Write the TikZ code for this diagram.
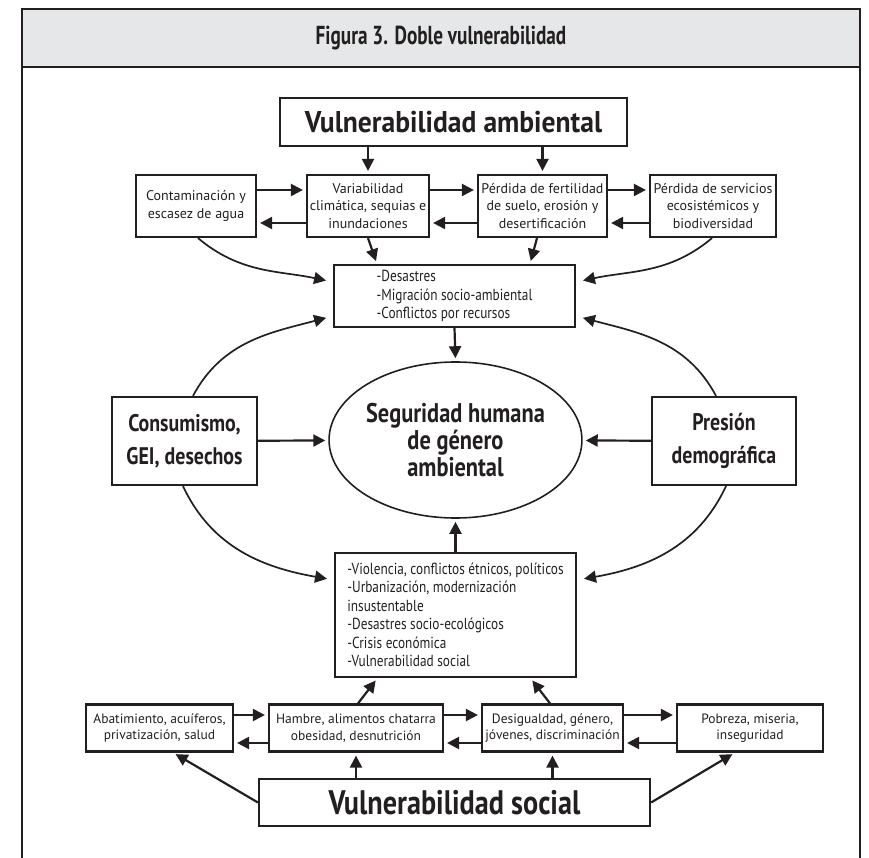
\documentclass[tikz,border=0pt]{standalone}
\usepackage{fontspec}
\setmainfont{PT Sans}
\newfontfamily\narrowfont[FakeStretch=0.83]{PT Sans}
\newfontfamily\listfont[FakeStretch=0.92]{PT Sans}
\newfontfamily\titlefont[FakeStretch=0.74]{PT Sans}
\usetikzlibrary{shapes.geometric, arrows.meta, positioning, calc}
\definecolor{ink}{RGB}{35,31,32}
\definecolor{headgray}{RGB}{230,231,232}
\tikzstyle{box} = [rectangle, draw=ink, line width=2.2pt, text=ink, align=center, inner sep=2pt, font=\fontsize{14}{17.5}\selectfont]
\tikzstyle{rowbox} = [box, minimum height=47pt, font=\fontsize{13.5}{16.5}\selectfont]
\tikzstyle{headbox} = [box, font=\listfont\bfseries\fontsize{30}{34}\selectfont]
\tikzstyle{bigbox} = [box, font=\narrowfont\bfseries\fontsize{24}{33}\selectfont]
\tikzstyle{listbox} = [box, align=left, font=\narrowfont\fontsize{16}{18.5}\selectfont]
\tikzstyle{arrow} = [line width=2.2pt, draw=ink, -{Triangle[length=12pt,width=12pt]}, shorten >=3pt]
\tikzstyle{curve} = [arrow, line width=1.7pt, shorten >=7pt]

\begin{document}
\begin{tikzpicture}[x=1pt, y=1pt]
    \useasboundingbox (0,0) rectangle (869,-858);

    % marco y encabezado
    \draw [line width=2.4pt, draw=ink, fill=headgray] (22,-9) rectangle (860,-67);
    \draw [line width=2.4pt, draw=ink] (22,-67) -- (22,-858);
    \draw [line width=2.4pt, draw=ink] (860,-67) -- (860,-858);
    \node (title) [text=ink, font=\titlefont\bfseries\fontsize{26}{30}\selectfont] at (441,-38) {Figura 3. Doble vulnerabilidad};

    % vulnerabilidad ambiental
    \node (va) [headbox, minimum width=347pt, minimum height=48pt] at (453.5,-122) {Vulnerabilidad ambiental};
    \node (contam) [box, minimum width=120pt, minimum height=62pt] at (196,-206) {Contaminación y\\escasez de agua};
    \node (variab) [box, minimum width=122pt, minimum height=62pt] at (368,-206) {Variabilidad\\climática, sequias e\\inundaciones};
    \node (fert) [box, minimum width=129pt, minimum height=62pt] at (542.5,-206) {Pérdida de fertilidad\\de suelo, erosión y\\desertificación};
    \node (serv) [box, minimum width=126pt, minimum height=62pt] at (713,-206) {Pérdida de servicios\\ecosistémicos y\\biodiversidad};

    \node (desastres) [listbox, minimum width=241pt, minimum height=62pt] at (454.5,-296) {-Desastres\\-Migración socio-ambiental\\-Conflictos por recursos};

    % centro
    \node (ell) [ellipse, draw=ink, line width=1.6pt, text=ink, align=center, minimum width=204pt, minimum height=156pt, inner sep=0pt, font=\narrowfont\bfseries\fontsize{27}{27}\selectfont] at (455.5,-440) {Seguridad humana\\de género\\ambiental};
    \node (cons) [bigbox, minimum width=145pt, minimum height=88pt] at (184.5,-441) {Consumismo,\\GEI, desechos};
    \node (pres) [bigbox, minimum width=144pt, minimum height=88pt] at (724,-441) {Presión\\demográfica};

    \node (lower) [listbox, minimum width=241pt, minimum height=124pt] at (455.5,-615) {-Violencia, conflictos étnicos, políticos\\-Urbanización, modernización\\insustentable\\-Desastres socio-ecológicos\\-Crisis económica\\-Vulnerabilidad social};

    % vulnerabilidad social
    \node (abat) [rowbox, minimum width=147pt] at (159.5,-728) {Abatimiento, acuíferos,\\privatización, salud};
    \node (hambre) [rowbox, minimum width=174pt] at (356,-728) {Hambre, alimentos chatarra\\obesidad, desnutrición};
    \node (desig) [rowbox, minimum width=141pt] at (552.5,-728) {Desigualdad, género,\\jóvenes, discriminación};
    \node (pobreza) [rowbox, minimum width=146pt] at (750,-728) {Pobreza, miseria,\\inseguridad};
    \node (vs) [bigbox, minimum width=391pt, minimum height=47pt, font=\narrowfont\bfseries\fontsize{34}{38}\selectfont] at (454.5,-802.5) {Vulnerabilidad social};

    % flechas de arriba
    \draw [arrow] (va.south -| variab.north) -- (variab.north);
    \draw [arrow] (va.south -| fert.north) -- (fert.north);

    \draw [arrow] ([yshift=16pt]contam.east) -- ([yshift=16pt]variab.west);
    \draw [arrow] ([yshift=-17pt]variab.west) -- ([yshift=-17pt]contam.east);
    \draw [arrow] ([yshift=16pt]variab.east) -- ([yshift=16pt]fert.west);
    \draw [arrow] ([yshift=-17pt]fert.west) -- ([yshift=-17pt]variab.east);
    \draw [arrow] ([yshift=16pt]fert.east) -- ([yshift=16pt]serv.west);
    \draw [arrow] ([yshift=-17pt]serv.west) -- ([yshift=-17pt]fert.east);

    \draw [arrow] (variab.south) -- ([xshift=-77.5pt]desastres.north);
    \draw [arrow] ([xshift=-5.5pt]fert.south) -- ([xshift=75.5pt]desastres.north);
    \draw [curve] ([xshift=2pt]contam.south) to[out=-40, in=168] ([yshift=14pt]desastres.west);
    \draw [curve] ([xshift=-1pt]serv.south) to[out=-140, in=12] ([yshift=14pt]desastres.east);

    % flechas del centro
    \draw [curve] ([xshift=8.5pt]cons.north) to[out=62, in=195] ([yshift=-20pt]desastres.west);
    \draw [curve] ([xshift=-8pt]pres.north) to[out=118, in=-15] ([yshift=-20pt]desastres.east);
    \draw [curve] ([xshift=-1.5pt]cons.south) to[out=-65, in=170] ([yshift=35pt]lower.west);
    \draw [curve] ([xshift=2pt]pres.south) to[out=-115, in=10] ([yshift=35pt]lower.east);

    \draw [arrow] (desastres.south) -- (ell.north);
    \draw [arrow] (lower.north) -- (ell.south);
    \draw [arrow] (cons) -- (ell);
    \draw [arrow] (pres) -- (ell);

    % flechas de abajo
    \draw [arrow] ([xshift=2pt]hambre.north) -- ([xshift=-78pt]lower.south);
    \draw [arrow] ([xshift=-2.5pt]desig.north) -- ([xshift=75pt]lower.south);

    \draw [arrow] ([yshift=13pt]abat.east) -- ([yshift=13pt]hambre.west);
    \draw [arrow] ([yshift=-15pt]hambre.west) -- ([yshift=-15pt]abat.east);
    \draw [arrow] ([yshift=13pt]hambre.east) -- ([yshift=13pt]desig.west);
    \draw [arrow] ([yshift=-15pt]desig.west) -- ([yshift=-15pt]hambre.east);
    \draw [arrow] ([yshift=13pt]desig.east) -- ([yshift=13pt]pobreza.west);
    \draw [arrow] ([yshift=-15pt]pobreza.west) -- ([yshift=-15pt]desig.east);

    \draw [arrow] (vs.north -| hambre.south) -- (hambre.south);
    \draw [arrow] (vs.north -| desig.south) -- (desig.south);
    \draw [arrow] (vs.west) -- ([xshift=13.5pt]abat.south);
    \draw [arrow] (vs.east) -- ([xshift=-15pt]pobreza.south);
\end{tikzpicture}
\end{document}
